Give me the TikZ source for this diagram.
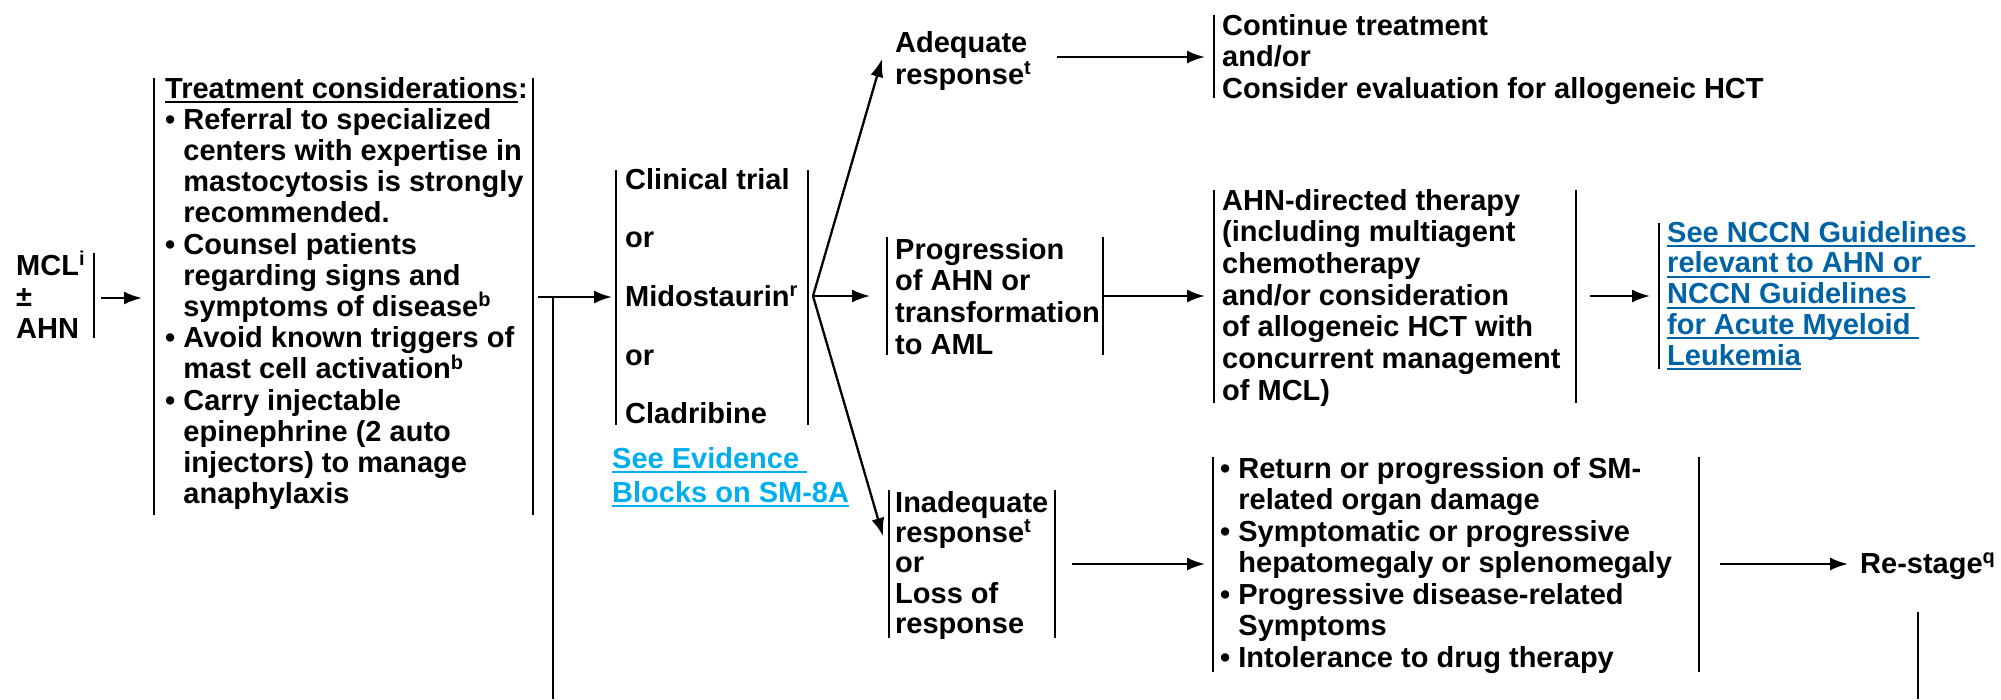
\documentclass[tikz,border=0pt]{standalone}
\usepackage{fontspec}
\setmainfont{Liberation Sans}
\usetikzlibrary{arrows.meta}
\definecolor{evid}{RGB}{0,174,239}
\definecolor{nccn}{RGB}{0,99,166}
\newsavebox\lkbox
\newcommand\lk[1]{\sbox\lkbox{#1}\rlap{\rule[-5pt]{\wd\lkbox}{2pt}}\usebox\lkbox}
\newcommand\supx[1]{\smash{\raisebox{9.5pt}{\fontsize{20}{20}\selectfont #1}}}
\newcommand\bh{\hphantom{•\ }}
\newcommand\tlines[1]{\begin{tabular}[t]{@{}l@{}}#1\end{tabular}}
\tikzset{
  txt/.style={anchor=base west, inner sep=0pt, font=\bfseries\fontsize{29}{#1}\selectfont},
  txt/.default=31.5,
  bar/.style={line width=2.3pt},
  arr/.style={line width=2.3pt, -{Latex[length=18pt,width=13pt]}},
  conn/.style={line width=2.3pt},
}
\begin{document}
\begin{tikzpicture}[x=1pt,y=-1pt]
\useasboundingbox (0,0) rectangle (2001,699);

% ---------- text nodes ----------
\node[txt=31.5] (mcl) at (16,275) {\tlines{MCL\supx{i}\\ ±\\ AHN}};
\node[txt=31.2] (treat) at (165,98) {\tlines{%
\lk{Treatment considerations}:\\
• Referral to specialized\\
\bh centers with expertise in\\
\bh mastocytosis is strongly\\
\bh recommended.\\
• Counsel patients\\
\bh regarding signs and\\
\bh symptoms of disease\supx{b}\\
• Avoid known triggers of\\
\bh mast cell activation\supx{b}\\
• Carry injectable\\
\bh epinephrine (2 auto\\
\bh injectors) to manage\\
\bh anaphylaxis}};
\node[txt=58.7] (clin) at (625,189) {\tlines{Clinical trial\\ or\\ Midostaurin\supx{r}\\ or\\ Cladribine}};
\node[txt=34, text=evid] (evid) at (612,468) {\tlines{\lk{See Evidence\ }\\ \lk{Blocks on SM-8A}}};
\node[txt=32] (adeq) at (895,52) {\tlines{Adequate\\ response\supx{t}}};
\node[txt=31.5] (cont) at (1222,35) {\tlines{Continue treatment\\ and/or\\ Consider evaluation for allogeneic HCT}};
\node[txt=31.8] (prog) at (895,259) {\tlines{Progression\\ of AHN or\\ transformation\\ to AML}};
\node[txt=31.7] (ahn) at (1222,210) {\tlines{AHN-directed therapy\\ (including multiagent\\ chemotherapy\\ and/or consideration\\ of allogeneic HCT with\\ concurrent management\\ of MCL)}};
\node[txt=30.8, text=nccn] (nccn) at (1667,242) {\tlines{\lk{See NCCN Guidelines\ }\\ \lk{relevant to AHN or\ }\\ \lk{NCCN Guidelines\ }\\ \lk{for Acute Myeloid\ }\\ \lk{Leukemia}}};
\node[txt=30.4] (inad) at (895,512) {\tlines{Inadequate\\ response\supx{t}\\ or\\ Loss of\\ response}};
\node[txt=31.5] (bul) at (1220,478) {\tlines{%
• Return or progression of SM-\\
\bh related organ damage\\
• Symptomatic or progressive\\
\bh hepatomegaly or splenomegaly\\
• Progressive disease-related\\
\bh Symptoms\\
• Intolerance to drug therapy}};
\node[txt] (restage) at (1860,573) {Re-stage\supx{q}};

% ---------- bars ----------
\draw[bar] (94,253) -- (94,338);
\draw[bar] (154,78) -- (154,515);
\draw[bar] (533,78) -- (533,515);
\draw[bar] (616,170) -- (616,425);
\draw[bar] (808,170) -- (808,425);
\draw[bar] (1214,15) -- (1214,98);
\draw[bar] (887,237) -- (887,355);
\draw[bar] (1103,237) -- (1103,355);
\draw[bar] (1214,190) -- (1214,403);
\draw[bar] (1576,190) -- (1576,403);
\draw[bar] (1659,223) -- (1659,369);
\draw[bar] (889,490) -- (889,638);
\draw[bar] (1055,490) -- (1055,638);
\draw[bar] (1213,457) -- (1213,672);
\draw[bar] (1699,457) -- (1699,672);

% ---------- connector coordinates ----------
\coordinate (mclOut) at (101,298);
\coordinate (treatIn) at (142,298);
\coordinate (treatOut) at (538,297);
\coordinate (split) at (553,297);
\coordinate (splitEnd) at (553,699);
\coordinate (clinIn) at (612,297);
\coordinate (fork) at (813,296);
\coordinate (adeqIn) at (882,59);
\coordinate (progIn) at (870,296);
\coordinate (inadIn) at (883,536);
\coordinate (adeqOut) at (1057,57);
\coordinate (contIn) at (1205,57);
\coordinate (progOut) at (1103,296);
\coordinate (ahnIn) at (1205,296);
\coordinate (ahnOut) at (1590,296);
\coordinate (nccnIn) at (1650,296);
\coordinate (inadOut) at (1072,564);
\coordinate (bulIn) at (1205,564);
\coordinate (bulOut) at (1720,564);
\coordinate (restIn) at (1848,564);
\coordinate (restDown) at (1918,612);
\coordinate (restEnd) at (1918,699);

% ---------- connectors ----------
\draw[arr] (mclOut) -- (treatIn);
\draw[arr] (treatOut) -- (clinIn);
\draw[conn] (split) -- (splitEnd);
\draw[arr] (fork) -- (adeqIn);
\draw[arr] (fork) -- (progIn);
\draw[arr] (fork) -- (inadIn);
\draw[arr] (adeqOut) -- (contIn);
\draw[arr] (progOut) -- (ahnIn);
\draw[arr] (ahnOut) -- (nccnIn);
\draw[arr] (inadOut) -- (bulIn);
\draw[arr] (bulOut) -- (restIn);
\draw[conn] (restDown) -- (restEnd);
\end{tikzpicture}
\end{document}
